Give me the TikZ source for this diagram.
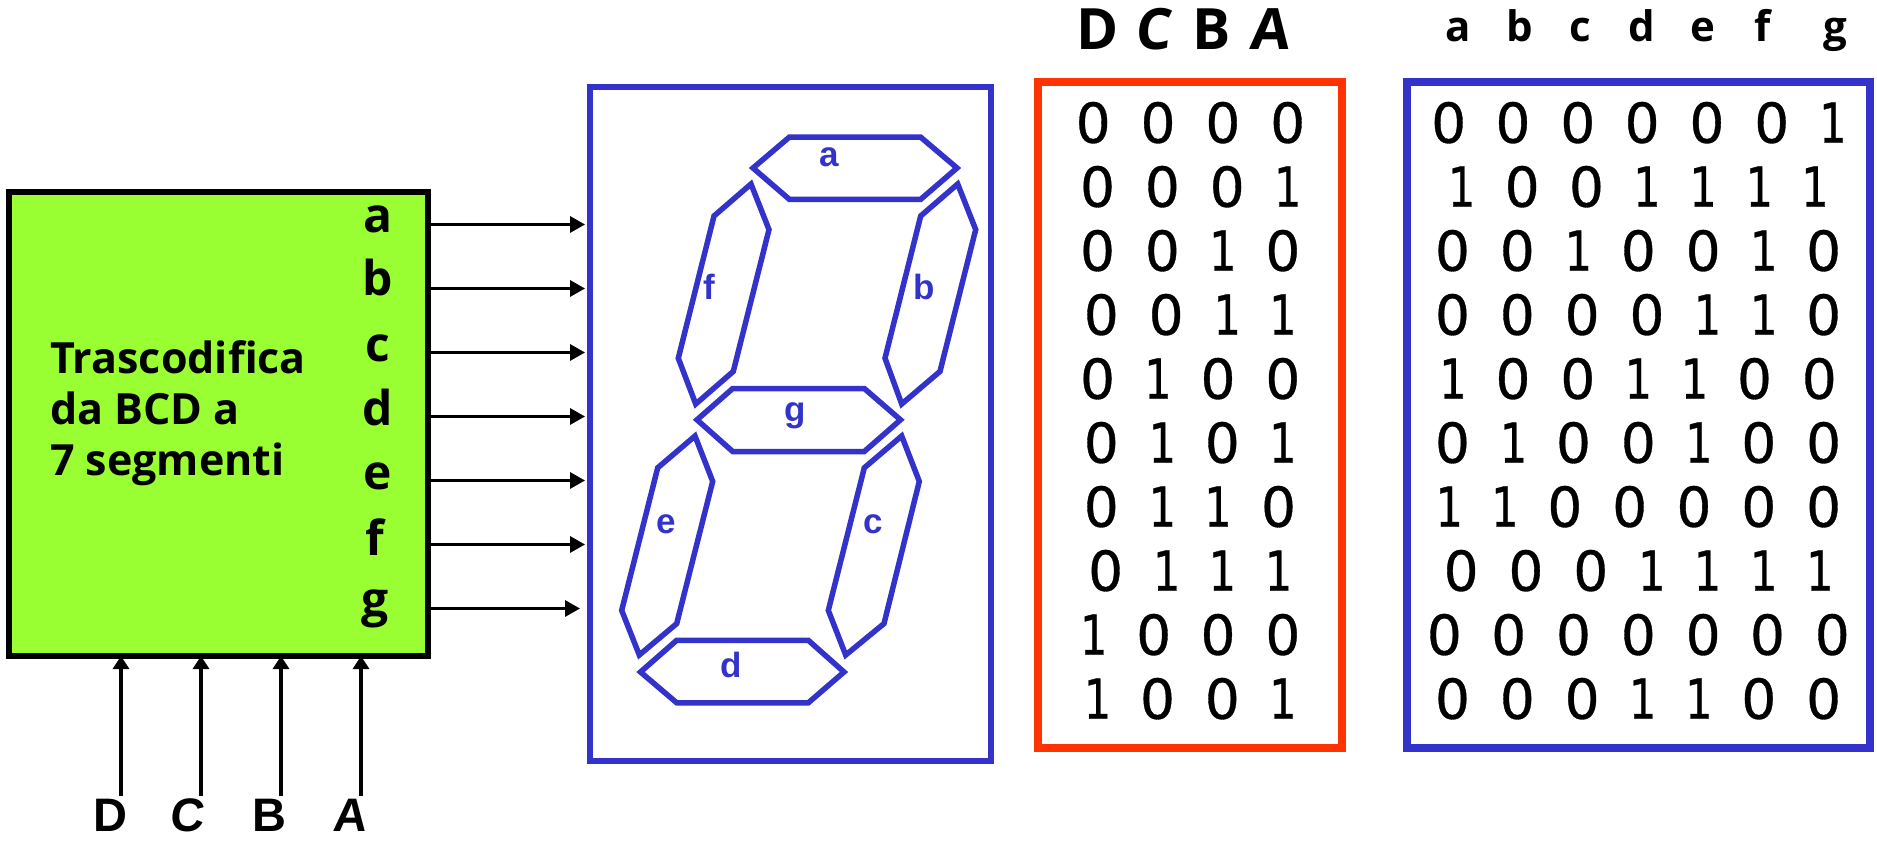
\documentclass[tikz,border=0pt]{standalone}
\usepackage{fontspec}
\usepackage{graphicx}
\usetikzlibrary{arrows.meta}
\newfontfamily\digfont[FakeBold=0.6]{DejaVu Sans}
\newfontfamily\comicfont{Open Sans}
\newfontfamily\arialfont{Liberation Sans}
\newcommand\dg[1]{\ifnum#1=1 \scalebox{.78}[1]{1}\else 0\fi}
\definecolor{leaf}{HTML}{99FF33}
\definecolor{ink}{HTML}{3333CC}
\definecolor{flame}{HTML}{FF3300}
\tikzset{
  tipR/.style={-{Triangle[length=15pt,width=16pt]},line width=3.2pt},
  tipU/.style={-{Triangle[length=13pt,width=16pt]},line width=4pt},
  frame/.style={draw,rectangle,line width=#1,inner sep=0pt,outer sep=0pt},
  seg/.style={draw=ink,line width=5.5pt,line join=miter,miter limit=3},
  seglab/.style={text=ink,font=\arialfont\bfseries\fontsize{35}{36}\selectfont,inner sep=0pt,anchor=base},
  dig/.style={font=\digfont\fontsize{55}{60}\selectfont,inner sep=0pt,anchor=base},
  outlab/.style={font=\comicfont\bfseries\fontsize{48}{52}\selectfont,inner sep=0pt,anchor=base},
  inlab/.style={font=\arialfont\bfseries\fontsize{47}{48}\selectfont,inner sep=0pt,anchor=base},
  headA/.style={font=\comicfont\bfseries\fontsize{57}{60}\selectfont,inner sep=0pt,anchor=base},
  headB/.style={font=\comicfont\bfseries\fontsize{42}{46}\selectfont,inner sep=0pt,anchor=base},
  lean/.style={xslant=0.1},
  plain/.style={},
}
\begin{document}
\begin{tikzpicture}[x=1pt,y=-1pt]
\useasboundingbox (0,0) rectangle (1877,842);
% encoder box
\node[frame=6pt,draw=black,fill=leaf,minimum width=419pt,minimum height=464pt] (dec) at (218.5,424) {};
\node[font=\comicfont\bfseries\fontsize{43}{51}\selectfont,align=left,inner sep=0pt,anchor=base west] (title) at (50,475)
  {Trascodifica\\da BCD a\\7 segmenti};
% output labels
\foreach \n/\x/\y in {a/378/233,b/378/296,c/378/361,d/378/425,e/378/489,f/375/555,g/375/616}
  \node[outlab] (out\n) at (\x,\y) {\n};
% output arrows
\foreach \n/\y/\e in {a/224.5/585,b/288.5/585,c/352.5/585,d/416.5/585,e/480.5/585,f/544.5/585,g/608.5/580}{
  \coordinate (end\n) at (\e,\y);
  \draw[tipR] (dec.east |- end\n) -- (end\n);
}
% input labels and arrows
\foreach \n/\lx/\ax/\st in {D/110/121/plain,C/186/201/lean,B/269/281/plain,A/349/361/lean}{
  \node[inlab,\st] (in\n) at (\lx,831) {\n};
  \coordinate (start\n) at (\ax,796);
  \draw[tipU] (start\n) -- (dec.south -| start\n);
}
% display
\node[frame=6pt,draw=ink,minimum width=401pt,minimum height=673pt] (disp) at (790,424) {};
\draw[seg] (753,168) -- (789.3,137.2) -- (920.7,137.2) -- (957,168) -- (920.7,199.3) -- (789.3,199.3) -- cycle;
\draw[seg] (697,419.8) -- (732.7,388.5) -- (864.3,388.5) -- (900.5,419.8) -- (864.3,451.5) -- (732.7,451.5) -- cycle;
\draw[seg] (640.5,672) -- (676.7,640.3) -- (808.3,640.3) -- (844,672) -- (808.3,702.8) -- (676.7,702.8) -- cycle;
\draw[seg] (751,184) -- (714,216) -- (678.3,358.2) -- (695.7,404) -- (733.3,371.4) -- (769,229.6) -- cycle;
\draw[seg] (957.7,184) -- (920.7,216) -- (885,358.2) -- (901.7,404) -- (940,371.4) -- (975.7,229.6) -- cycle;
\draw[seg] (695,436) -- (657.7,467.8) -- (621.7,610.4) -- (639.3,655) -- (676.7,623.6) -- (712.7,481.4) -- cycle;
\draw[seg] (901.7,436) -- (864.3,467.8) -- (828.3,610.4) -- (845.7,655) -- (884,623.6) -- (919.3,481.4) -- cycle;
\node[seglab] (la) at (829,167) {a};
\node[seglab] (lb) at (924,300) {b};
\node[seglab] (lc) at (873,533) {c};
\node[seglab] (ld) at (731,677) {d};
\node[seglab] (le) at (666,533) {e};
\node[seglab] (lf) at (709,300) {f};
\node[seglab] (lg) at (795,421) {g};
% tables
\node[frame=7.5pt,draw=flame,minimum width=304pt,minimum height=666pt] (tabin) at (1190,415) {};
\node[frame=7.5pt,draw=ink,minimum width=463pt,minimum height=666pt] (tabout) at (1638.5,415) {};
% headers
\foreach \n/\x/\st in {D/1097.5/plain,C/1153/lean,B/1212/plain,A/1269/lean}
  \node[headA,\st] (h\n) at (\x,50) {\n};
\foreach \n/\x in {a/1458.4,b/1520,c/1580,d/1641.6,e/1702.6,f/1763,g/1835}
  \node[headB] (h\n) at (\x,41.7) {\n};
% digits, red table
\foreach \r/\row in {
  1/{117/0,237/0,357/0,477/0},
  2/{125/0,245/0,365/0,477/1},
  3/{125/0,245/0,357/1,468/0},
  4/{132/0,252/0,365/1,468/1},
  5/{125/0,237/1,348/0,468/0},
  6/{132/0,245/1,356/0,468/1},
  7/{132/0,245/1,348/1,460/0},
  8/{140/0,253/1,356/1,460/1},
  9/{118/1,229/0,348/0,468/0},
  10/{125/1,236/0,356/0,468/1}}{
  \foreach \X/\d [count=\c] in \row
    \node[dig] (i\r-\c) at ({1030+\X/1.851},{122.7+64*(\r-1)+20}) {\dg{\d}};
}
% digits, blue table
\foreach \r/\row in {
  1/{775/0,894/0,1014/0,1133/0,1253/0,1373/0,1486/1},
  2/{799/1,911/0,1030/0,1142/1,1246/1,1350/1,1453/1},
  3/{782/0,902/0,1015/1,1126/0,1246/0,1358/1,1469/0},
  4/{782/0,902/0,1022/0,1142/0,1254/1,1358/1,1469/0},
  5/{783/1,894/0,1014/0,1126/1,1230/1,1341/0,1461/0},
  6/{782/0,895/1,1006/0,1126/0,1238/1,1349/0,1469/0},
  7/{776/1,879/1,990/0,1110/0,1229/0,1349/0,1469/0},
  8/{798/0,918/0,1038/0,1151/1,1254/1,1358/1,1462/1},
  9/{767/0,886/0,1006/0,1126/0,1246/0,1365/0,1485/0},
  10/{782/0,902/0,1022/0,1134/1,1238/1,1349/0,1469/0}}{
  \foreach \X/\d [count=\c] in \row
    \node[dig] (o\r-\c) at ({1030+\X/1.851},{122.7+64*(\r-1)+20}) {\dg{\d}};
}
\end{tikzpicture}
\end{document}
